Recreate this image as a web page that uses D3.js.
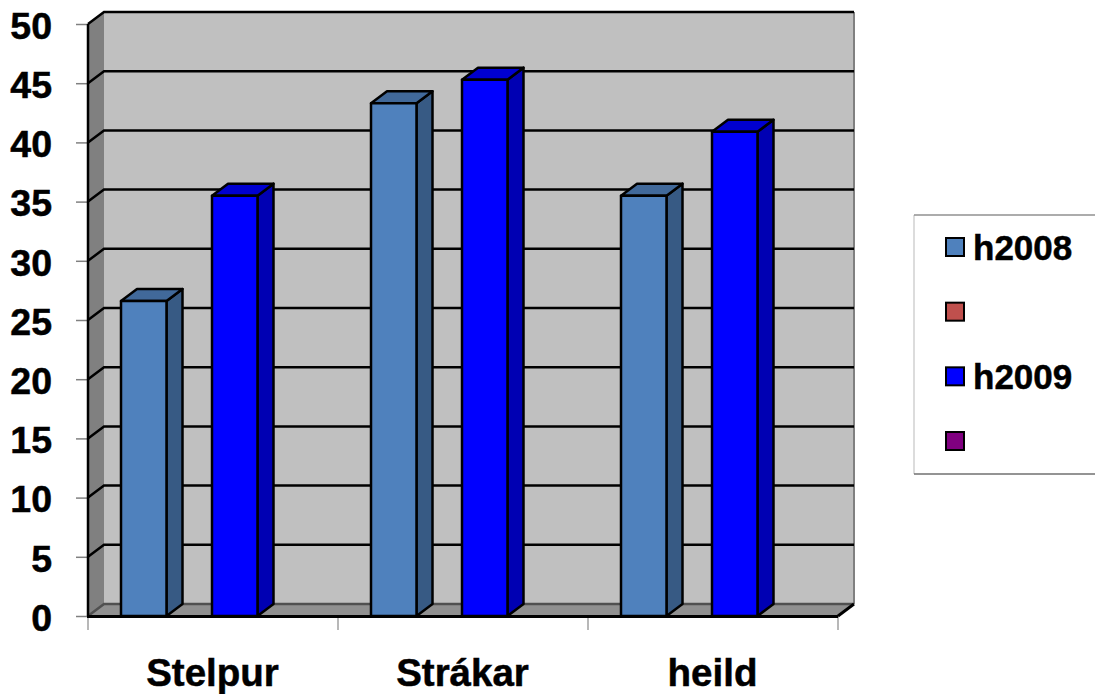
<!DOCTYPE html>
<html>
<head>
<meta charset="utf-8">
<title>h2008 h2009</title>
<script src="https://d3js.org/d3.v7.min.js"></script>
<style>
    body { margin: 0; background: #fff; }
    text { font-family: "Liberation Sans", Arial, sans-serif; font-weight: bold; fill: #000; stroke: #000; stroke-width: 0.5px; }
    .axis path { display: none; }
    .axis text { font-size: 37.5px; }
    .cats text { font-size: 38.5px; }
</style>
</head>
<body>
<div id="graph"></div>
<script>
var categories = ["Stelpur", "Strákar", "heild"];
var seriesNames = ["h2008", "", "h2009", ""];
var seriesColors = ["#4f81bd", "#c0504d", "#0000ff", "#800080"];
var seriesSides = ["#375a84", "#863836", "#0000b3", "#590059"];
var seriesTops = ["#41699a", "#9d413f", "#0000d0", "#680068"];
var h2008 = [26.6, 43.3, 35.5];
var blankA = [null, null, null];
var h2009 = [35.5, 45.3, 40.9];
var blankB = [null, null, null];
var seriesValues = [h2008, blankA, h2009, blankB];
var yTicks = [0, 5, 10, 15, 20, 25, 30, 35, 40, 45, 50];

var depthX = 16, depthY = 12;

var svg = d3.select("#graph").append("svg").attr("width", 1095).attr("height", 694);

var x = d3.scaleBand().domain(categories).range([88, 838]);
var xSeries = d3.scaleBand().domain(d3.range(4)).range([33, 215]);
var y = d3.scaleLinear().domain([0, 50]).range([616, 24]);

var x0 = x.range()[0], x1 = x.range()[1], y0 = y(0), y1 = y(50);

function pts(a) { return a.map(function (p) { return p.join(","); }).join(" "); }

// walls
svg.append("polygon").attr("fill", "#c0c0c0")
    .attr("points", pts([[x0 + depthX, y1 - depthY], [x1 + depthX, y1 - depthY], [x1 + depthX, y0 - depthY], [x0 + depthX, y0 - depthY]]));
svg.append("polygon").attr("fill", "#808080")
    .attr("points", pts([[x0, y1], [x0 + depthX, y1 - depthY], [x0 + depthX, y0 - depthY], [x0, y0]]));
svg.append("polygon").attr("fill", "#909090")
    .attr("points", pts([[x0, y0], [x0 + depthX, y0 - depthY], [x1 + depthX, y0 - depthY], [x1, y0]]));
svg.append("line").attr("x1", x1 + depthX).attr("x2", x1 + depthX).attr("y1", y1 - depthY).attr("y2", y0 - depthY)
    .attr("stroke", "#808080").attr("stroke-width", 2);

// grid lines, back wall plus the diagonal on the side wall
var grid = svg.append("g").attr("fill", "none").attr("stroke-width", 2.5);
grid.selectAll("path").data(yTicks).enter().append("path")
    .attr("stroke", function (d) { return d === 0 ? "#505050" : "#000"; })
    .attr("d", function (d) {
        return "M" + x0 + "," + y(d) + "L" + (x0 + depthX) + "," + (y(d) - depthY) + "L" + (x1 + depthX) + "," + (y(d) - depthY);
    });

// axes
var yAxis = d3.axisLeft(y).tickValues(yTicks).tickSize(12).tickPadding(24);
var yG = svg.append("g").attr("class", "axis").attr("transform", "translate(" + x0 + ",0)").call(yAxis);
yG.selectAll("line").attr("stroke", "#808080").attr("stroke-width", 1.5);
yG.selectAll("text").attr("dy", "0.38em");

var xTicks = svg.append("g");
xTicks.selectAll("line").data(categories.concat([null])).enter().append("line")
    .attr("x1", function (d, i) { return x0 + i * x.step(); })
    .attr("x2", function (d, i) { return x0 + i * x.step(); })
    .attr("y1", y0).attr("y2", y0 + 14)
    .attr("stroke", "#a0a0a0").attr("stroke-width", 1.5);

svg.append("g").attr("class", "cats").selectAll("text").data(categories).enter().append("text")
    .attr("x", function (d) { return x(d) + x.bandwidth() / 2 - 0.5; })
    .attr("y", 686)
    .attr("text-anchor", "middle")
    .text(function (d) { return d; });

// bars
seriesValues.forEach(function (vals, s) {
    var g = svg.append("g").attr("stroke", "#000").attr("stroke-width", 2.5).attr("stroke-linejoin", "round");
    vals.forEach(function (v, i) {
        if (v === null) return;
        var bx = x(categories[i]) + xSeries(s), bw = xSeries.bandwidth(), by = y(v);
        g.append("polygon").attr("fill", seriesSides[s])
            .attr("points", pts([[bx + bw, by], [bx + bw + depthX, by - depthY], [bx + bw + depthX, y0 - depthY], [bx + bw, y0]]));
        g.append("polygon").attr("fill", seriesTops[s])
            .attr("points", pts([[bx, by], [bx + depthX, by - depthY], [bx + bw + depthX, by - depthY], [bx + bw, by]]));
        g.append("rect").attr("fill", seriesColors[s])
            .attr("x", bx).attr("y", by).attr("width", bw).attr("height", y0 - by);
    });
});

// front edges on top of the bars
svg.append("line").attr("x1", x0).attr("x2", x0).attr("y1", y1).attr("y2", y0)
    .attr("stroke", "#000").attr("stroke-width", 2.5);
svg.append("line").attr("x1", x0 - 1).attr("x2", x1).attr("y1", y0 + 0.5).attr("y2", y0 + 0.5)
    .attr("stroke", "#000").attr("stroke-width", 3);
svg.append("line").attr("x1", x1).attr("x2", x1 + depthX).attr("y1", y0).attr("y2", y0 - depthY)
    .attr("stroke", "#000").attr("stroke-width", 3);

// legend
var legendY = d3.scalePoint().domain(d3.range(4)).range([247, 441]);
svg.append("line").attr("x1", 914).attr("x2", 914).attr("y1", 215).attr("y2", 474).attr("stroke", "#d0d0d0").attr("stroke-width", 1.5);
svg.append("line").attr("x1", 914).attr("x2", 1095).attr("y1", 215).attr("y2", 215).attr("stroke", "#909090").attr("stroke-width", 1.5);
svg.append("line").attr("x1", 914).attr("x2", 1095).attr("y1", 474).attr("y2", 474).attr("stroke", "#707070").attr("stroke-width", 1.5);
var legend = svg.append("g").selectAll("g").data(seriesNames).enter().append("g")
    .attr("transform", function (d, i) { return "translate(0," + legendY(i) + ")"; });
legend.append("rect").attr("x", 946).attr("y", -9).attr("width", 18).attr("height", 18)
    .attr("fill", function (d, i) { return seriesColors[i]; })
    .attr("stroke", "#000").attr("stroke-width", 2);
legend.append("text").attr("x", 973).attr("y", 0).attr("dy", "0.36em")
    .style("font-size", "35px")
    .text(function (d) { return d; });
</script>
</body>
</html>
